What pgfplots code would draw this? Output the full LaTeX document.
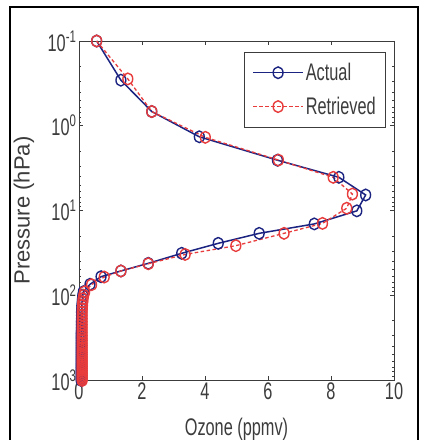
\documentclass[border=0pt]{standalone}
\usepackage{fontspec}
\setmainfont{Liberation Sans}[FakeStretch=0.68]
\newfontfamily\yfont{Liberation Sans}
\usepackage{pgfplots}
\pgfplotsset{compat=1.18}
\definecolor{actblue}{RGB}{28,36,130}
\definecolor{retred}{RGB}{232,60,60}
\definecolor{axgray}{RGB}{60,60,60}
\begin{document}
\begin{tikzpicture}
\useasboundingbox (0,0) rectangle (423bp,440bp);
\fill[white] (0,0) rectangle (423bp,440bp);
\draw[line width=1.6bp,black] (10bp,-2bp) -- (10bp,433bp) -- (418bp,433bp) -- (418bp,-2bp);
\begin{axis}[
  at={(79bp,60bp)}, anchor=south west,
  scale only axis, width=315bp, height=339bp,
  xmin=0, xmax=10, ymin=0.1, ymax=1000,
  ymode=log, y dir=reverse,
  clip=false,
  xtick={0,2,4,6,8,10},
  ytick={0.1,1,10,100,1000},
  yticklabels={10\textsuperscript{-1},10\textsuperscript{0},10\textsuperscript{1},10\textsuperscript{2},10\textsuperscript{3}},
  minor ytick={0.2,0.3,0.4,0.5,0.6,0.7,0.8,0.9,2,3,4,5,6,7,8,9,20,30,40,50,60,70,80,90,200,300,400,500,600,700,800,900},
  tick align=inside, xtick pos=both, ytick pos=both,
  major tick length=4bp, minor tick length=2.5bp,
  axis line style={axgray, line width=0.9bp},
  every tick/.style={axgray, line width=0.6bp},
  /pgf/number format/assume math mode=true,
  tick label style={font=\fontsize{24bp}{27bp}\selectfont, text=axgray},
  xticklabel style={yshift=1bp},
  yticklabel style={xshift=1bp},
  xlabel={Ozone (ppmv)},
  ylabel={\yfont\fontsize{22bp}{25bp}\selectfont Pressure (hPa)},
  label style={font=\fontsize{24bp}{27bp}\selectfont, text=axgray},
  xlabel style={at={(axis description cs:0.5,0)}, anchor=base, yshift=-55bp},
  ylabel style={at={(axis description cs:-0.1746,0.5)}, anchor=center},
  legend style={at={(rel axis cs:0.975,0.968)}, anchor=north east,
    draw=axgray, line width=0.9bp, fill=white,
    font=\fontsize{24bp}{27bp}\selectfont, text=axgray,
    row sep=11bp, inner xsep=8bp, inner ysep=9bp},
  legend cell align=left,
  legend image code/.code={
    \draw[mark repeat=2,mark phase=2,#1] plot coordinates {(0bp,0bp) (25bp,0bp) (50bp,0bp)};},
]
\addplot[actblue, line width=1.5bp, mark=o, mark size=5.8bp,
  mark options={solid, xscale=0.85, line width=1.4bp}] coordinates {
(0.56,0.10) (1.33,0.29) (2.31,0.68) (3.82,1.35) (6.30,2.55) (8.25,4.06)
(9.10,6.56) (8.82,10.1) (7.47,14.4) (5.72,18.6) (4.42,24.4) (3.26,32.0)
(2.20,42.0) (1.33,51.7) (0.70,60.4) (0.35,74.3) (0.14,90.8)
(0.12,100) (0.11,110) (0.10,120) (0.09,132) (0.085,145) (0.08,158)
(0.08,172) (0.08,187) (0.075,203) (0.075,220) (0.075,238) (0.075,257)
(0.07,277) (0.07,298) (0.07,320) (0.07,343) (0.07,367) (0.07,392)
(0.07,418) (0.07,445) (0.07,473) (0.07,502) (0.07,532) (0.07,563)
(0.07,595) (0.07,628) (0.07,662) (0.07,697) (0.07,733) (0.07,770)
(0.07,808) (0.07,847) (0.07,887) (0.07,928) (0.07,970) (0.07,1013)
};
\addlegendentry{Actual}
\addplot[retred, line width=1.3bp, dash pattern=on 3.5bp off 2.5bp, mark=o, mark size=5.8bp,
  mark options={solid, xscale=0.85, line width=1.4bp}] coordinates {
(0.56,0.10) (1.55,0.28) (2.31,0.68) (4.01,1.37) (6.33,2.54) (8.07,4.06)
(8.68,6.4) (8.50,9.4) (7.73,14.2) (6.51,18.6) (4.98,26.0) (3.37,33.0)
(2.20,42.5) (1.33,51.7) (0.80,61.0) (0.40,75.0) (0.18,91.0)
(0.15,100) (0.13,110) (0.12,120) (0.11,132) (0.105,145) (0.10,158)
(0.10,172) (0.10,187) (0.10,203) (0.10,220) (0.10,238) (0.10,257)
(0.10,277) (0.10,298) (0.10,320) (0.10,343) (0.10,367) (0.10,392)
(0.10,418) (0.10,445) (0.10,473) (0.10,502) (0.10,532) (0.10,563)
(0.10,595) (0.10,628) (0.10,662) (0.10,697) (0.10,733) (0.10,770)
(0.10,808) (0.10,847) (0.10,887) (0.10,928) (0.10,970) (0.10,1013)
};
\addlegendentry{Retrieved}
\end{axis}
\end{tikzpicture}
\end{document}
